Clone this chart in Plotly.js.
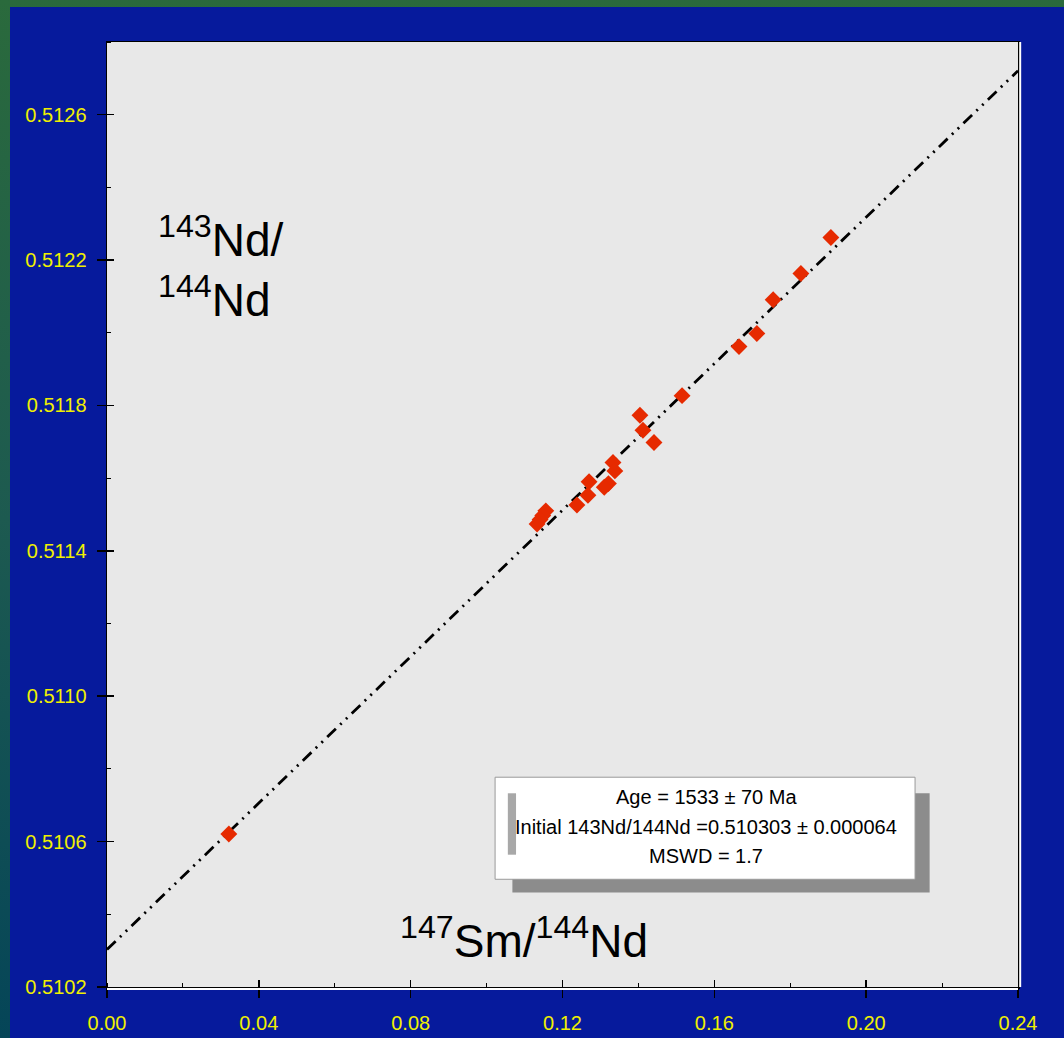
<!DOCTYPE html>
<html>
<head>
<meta charset="utf-8">
<script src="https://cdn.plot.ly/plotly-3.0.1.min.js"></script>
<style>
  html, body { margin: 0; padding: 0; }
  body {
    width: 1064px; height: 1038px; overflow: hidden; position: relative;
    background: linear-gradient(to bottom, #2a6a3c 0%, #1d5a50 50%, #054558 100%);
  }
  #chart { position: absolute; left: 10px; top: 7px; width: 1054px; height: 1031px; }
</style>
</head>
<body>
<div id="chart"></div>
<script>
// 147Sm/144Nd values (x) and 143Nd/144Nd values (y)
const smNd = [0.0321, 0.1907, 0.1828, 0.1755, 0.1712, 0.1665, 0.1515, 0.1404, 0.1412, 0.1441,
              0.1333, 0.1338, 0.1321, 0.1310, 0.1270, 0.1267, 0.1238, 0.1156, 0.1148, 0.1141, 0.1133];
const ndNd = [0.510621, 0.512262, 0.512163, 0.512091, 0.511998, 0.511962, 0.511827, 0.511773, 0.511732, 0.511698,
              0.511643, 0.511620, 0.511585, 0.511575, 0.511590, 0.511553, 0.511526, 0.511510, 0.511497, 0.511486, 0.511474];
// isochron line endpoints
const isoX = [0.0, 0.24];
const isoY = [0.510303, 0.512721];
// axis settings
const xRange = [0, 0.24];
const yRange = [0.5102, 0.5128];
const resultLines = ["Age = 1533 ± 70 Ma", "Initial 143Nd/144Nd =0.510303 ± 0.000064", "MSWD = 1.7"];

const blue = '#061a9c';
const tickFont = { family: 'Liberation Sans, Arial, sans-serif', size: 20, color: '#f0f000' };

const traces = [
  {
    x: isoX, y: isoY, type: 'scatter', mode: 'lines',
    line: { color: '#000000', width: 2.8, dash: '12px,6px,2px,6px,2px,6px' },
    hoverinfo: 'skip', showlegend: false
  },
  {
    x: smNd, y: ndNd, type: 'scatter', mode: 'markers',
    marker: { symbol: 'diamond', size: 13, color: '#e62a00', line: { width: 0 } },
    showlegend: false
  },
  { x: [], y: [], xaxis: 'x2', yaxis: 'y2', type: 'scatter', mode: 'markers', showlegend: false }
];

const lineY = [0.2011, 0.1693, 0.1386];
const resultAnnots = resultLines.map((t, i) => ({
  xref: 'paper', yref: 'paper', x: 0.658, y: lineY[i], xanchor: 'center', yanchor: 'middle',
  text: t, showarrow: false,
  font: { family: 'Liberation Sans, Arial, sans-serif', size: 20, color: '#000' }
}));

const layout = {
  width: 1054, height: 1031,
  margin: { l: 97, r: 46, t: 35, b: 51 },
  paper_bgcolor: blue,
  plot_bgcolor: '#e8e8e8',
  showlegend: false,
  xaxis: {
    range: xRange, tick0: 0, dtick: 0.04, tickformat: '.2f',
    ticks: 'outside', ticklen: 9, tickwidth: 1.5, tickcolor: '#000',
    minor: { dtick: 0.02, ticks: 'inside', ticklen: 4, tickwidth: 1, tickcolor: '#000' },
    showgrid: false, zeroline: false,
    showline: true, linecolor: '#000', linewidth: 1.5, mirror: true,
    tickfont: tickFont, ticklabelstandoff: 8
  },
  yaxis: {
    range: yRange, tick0: 0.5102, dtick: 0.0004, tickformat: '.4f',
    ticks: 'outside', ticklen: 9, tickwidth: 1.5, tickcolor: '#000',
    minor: { dtick: 0.0002, ticks: 'inside', ticklen: 4, tickwidth: 1, tickcolor: '#000' },
    showgrid: false, zeroline: false,
    showline: true, linecolor: '#000', linewidth: 1.5, mirror: true,
    tickfont: tickFont, ticklabelstandoff: 6
  },
  xaxis2: {
    overlaying: 'x', anchor: 'y2', range: xRange, tick0: 0, dtick: 0.04,
    ticks: 'inside', ticklen: 7, tickwidth: 1.5, tickcolor: '#000',
    showticklabels: false, showgrid: false, zeroline: false, showline: false
  },
  yaxis2: {
    overlaying: 'y', anchor: 'x2', range: yRange, tick0: 0.5102, dtick: 0.0004,
    ticks: 'inside', ticklen: 7, tickwidth: 1.5, tickcolor: '#000',
    showticklabels: false, showgrid: false, zeroline: false, showline: false
  },
  shapes: [
    { type: 'line', xref: 'paper', yref: 'paper', x0: 0, x1: 1, y0: -0.0022, y1: -0.0022,
      line: { color: '#ffffff', width: 2 } },
    { type: 'line', xref: 'paper', yref: 'paper', x0: 1.0024, x1: 1.0024, y0: 0, y1: 1,
      line: { color: '#ffffff', width: 2 } },
    { type: 'rect', xref: 'paper', yref: 'paper', x0: 0.445, x1: 0.903, y0: 0.100, y1: 0.205,
      fillcolor: '#8c8c8c', line: { width: 0 } },
    { type: 'rect', xref: 'paper', yref: 'paper', x0: 0.426, x1: 0.887, y0: 0.114, y1: 0.222,
      fillcolor: '#ffffff', line: { color: '#9a9a9a', width: 1 } },
    { type: 'rect', xref: 'paper', yref: 'paper', x0: 0.440, x1: 0.449, y0: 0.140, y1: 0.205,
      fillcolor: '#a8a8a8', line: { width: 0 } }
  ],
  annotations: [
    {
      xref: 'paper', yref: 'paper', x: 0.054, y: 0.762, xanchor: 'left', yanchor: 'middle',
      text: '<sup>143</sup>Nd/<br><sup>144</sup>Nd', showarrow: false, align: 'left',
      font: { family: 'Liberation Sans, Arial, sans-serif', size: 46, color: '#000' }
    },
    {
      xref: 'paper', yref: 'paper', x: 0.458, y: 0.052, xanchor: 'center', yanchor: 'middle',
      text: '<sup>147</sup>Sm/<sup>144</sup>Nd', showarrow: false,
      font: { family: 'Liberation Sans, Arial, sans-serif', size: 46, color: '#000' }
    }
  ].concat(resultAnnots)
};

Plotly.newPlot('chart', traces, layout, { displayModeBar: false, staticPlot: true });
</script>
</body>
</html>
